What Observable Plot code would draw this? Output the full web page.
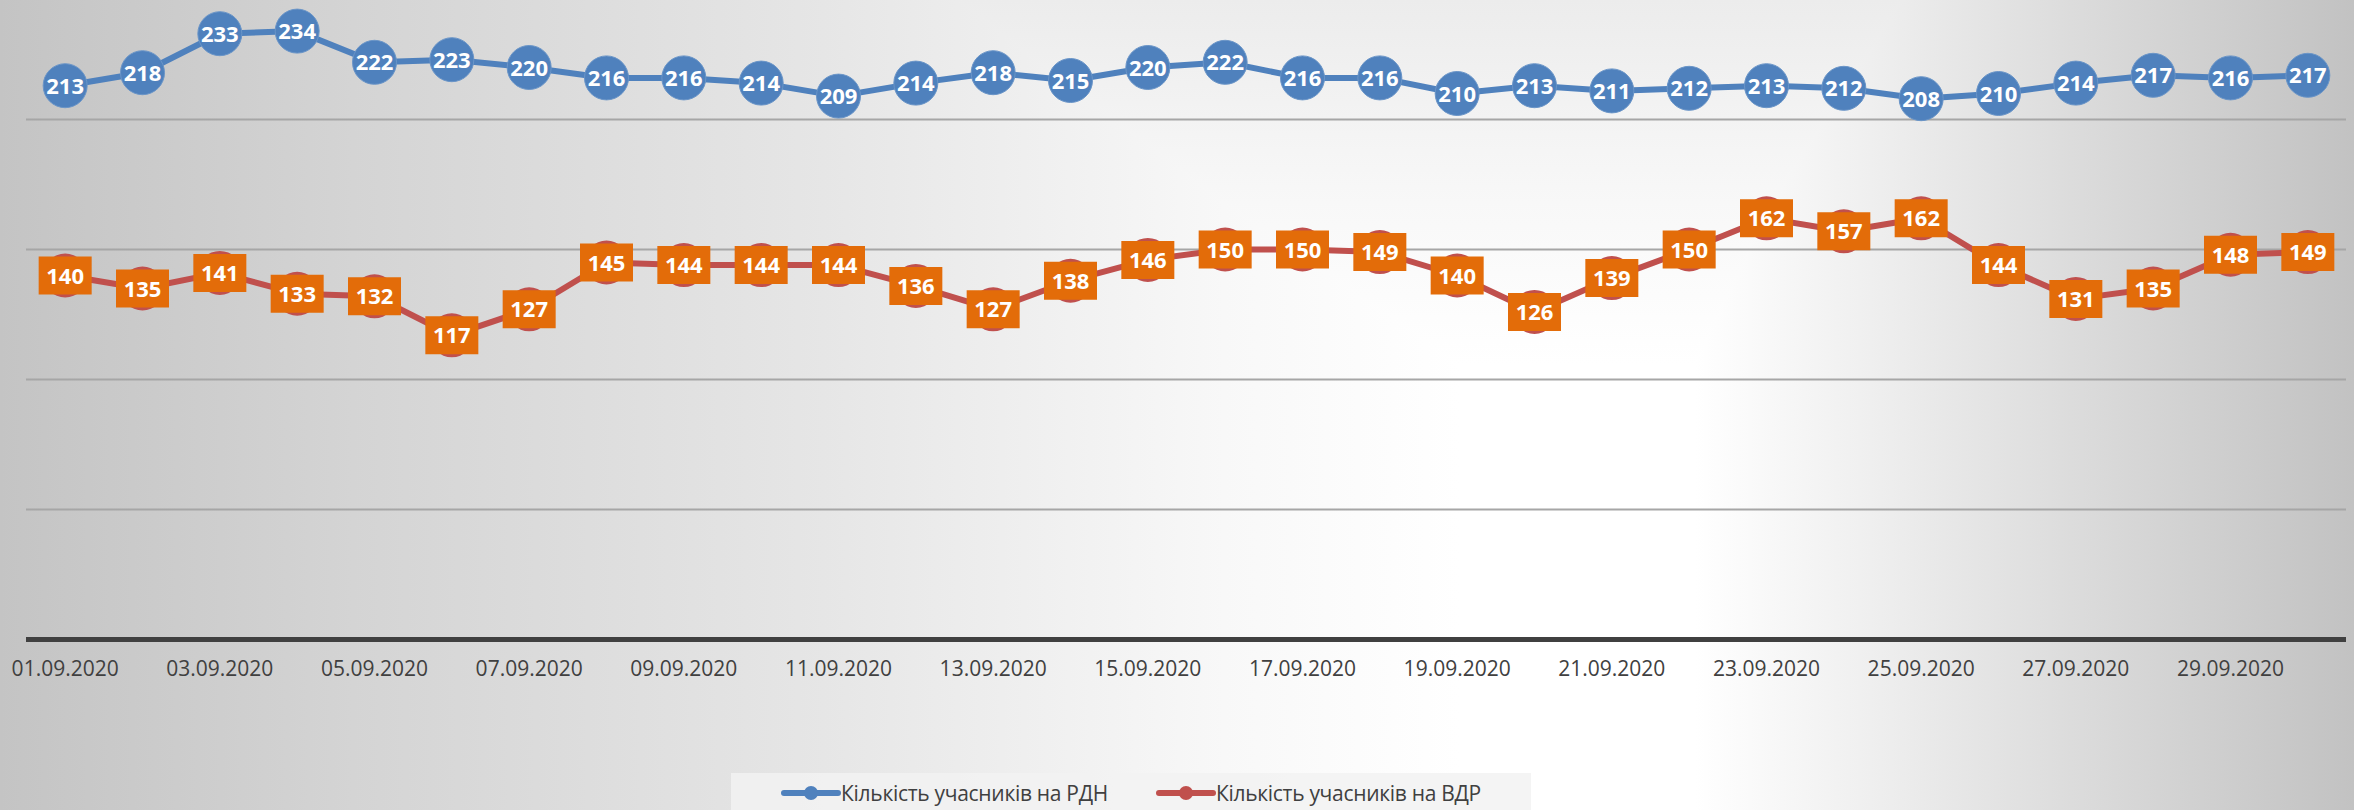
<!DOCTYPE html>
<html>
<head>
<meta charset="utf-8">
<script src="https://cdn.jsdelivr.net/npm/d3@7"></script>
<script src="https://cdn.jsdelivr.net/npm/@observablehq/plot@0.6"></script>
<style>
  html, body { margin: 0; padding: 0; }
  body {
    width: 2354px; height: 810px; overflow: hidden;
    font-family: "Open Sans", sans-serif;
    background:
      linear-gradient(to right, #c4c4c4 0%, #d4d4d4 15%, #e6e6e6 35%, #f8f8f8 52%, #ffffff 62%, #ffffff 72%, #f0f0f0 79%, #dcdcdc 88%, #c2c2c2 100%),
      linear-gradient(to bottom, #ececec 0%, #f8f8f8 25%, #ffffff 45%, #ffffff 100%);
    background-blend-mode: darken;
  }
  #chart svg { display: block; }
  #legend { position: relative; width: 2354px; height: 70px; }
  #legend .box {
    position: absolute; left: 731px; top: 33px; width: 800px; height: 40px;
    background: rgba(242,242,242,0.85);
    display: flex; align-items: center; justify-content: center; gap: 48px;
    font-size: 21px; color: #404040; letter-spacing: -0.3px;
  }
  #legend .item { display: flex; align-items: center; }
  #legend svg { display: block; }
</style>
</head>
<body>
<div id="chart"></div>
<div id="legend"></div>
<script>
const dates = ["01.09.2020","02.09.2020","03.09.2020","04.09.2020","05.09.2020","06.09.2020","07.09.2020","08.09.2020","09.09.2020","10.09.2020",
               "11.09.2020","12.09.2020","13.09.2020","14.09.2020","15.09.2020","16.09.2020","17.09.2020","18.09.2020","19.09.2020","20.09.2020",
               "21.09.2020","22.09.2020","23.09.2020","24.09.2020","25.09.2020","26.09.2020","27.09.2020","28.09.2020","29.09.2020","30.09.2020"];
const rdn = [213,218,233,234,222,223,220,216,216,214,209,214,218,215,220,222,216,216,210,213,211,212,213,212,208,210,214,217,216,217];
const vdr = [140,135,141,133,132,117,127,145,144,144,144,136,127,138,146,150,150,149,140,126,139,150,162,157,162,144,131,135,148,149];
const tickLabels = ["01.09.2020","03.09.2020","05.09.2020","07.09.2020","09.09.2020","11.09.2020","13.09.2020","15.09.2020",
                    "17.09.2020","19.09.2020","21.09.2020","23.09.2020","25.09.2020","27.09.2020","29.09.2020"];
const gridValues = [50, 100, 150, 200];
const seriesNames = ["Кількість учасників на РДН", "Кількість учасників на ВДР"];

const blue = "#4f81bd", red = "#c0504d", orange = "#e36c09";

const rdnData = dates.map((d, i) => ({date: d, value: rdn[i]}));
const vdrData = dates.map((d, i) => ({date: d, value: vdr[i]}));

const labelBox = {
  draw(context) { context.rect(-26.5, -19, 53, 38); }
};

const plot = Plot.plot({
  width: 2354,
  height: 740,
  marginLeft: 26,
  marginRight: 8,
  marginTop: 0,
  marginBottom: 101,
  style: {background: "transparent", fontFamily: "Open Sans, sans-serif"},
  x: {type: "point", domain: dates, padding: 0.5, round: false, axis: null},
  y: {domain: [0, 245.77], axis: null},
  marks: [
    Plot.ruleY(gridValues, {stroke: "#a6a6a6", strokeWidth: 2}),
    Plot.ruleY([0], {stroke: "#404040", strokeWidth: 5}),
    Plot.axisX({ticks: tickLabels, tickSize: 0, tickPadding: 22, fontSize: 21, fill: "#404040", stroke: null, label: null}),
    Plot.line(vdrData, {x: "date", y: "value", stroke: red, strokeWidth: 6}),
    Plot.dot(vdrData, {x: "date", y: "value", r: 22, fill: red, stroke: null}),
    Plot.dot(vdrData, {x: "date", y: "value", symbol: labelBox, fill: orange, stroke: null}),
    Plot.text(vdrData, {x: "date", y: "value", text: d => String(d.value), fill: "white", fontSize: 22, fontWeight: "bold", dy: 1, letterSpacing: -0.5}),
    Plot.line(rdnData, {x: "date", y: "value", stroke: blue, strokeWidth: 6}),
    Plot.dot(rdnData, {x: "date", y: "value", r: 22, fill: blue, stroke: "#6a95c8", strokeWidth: 1}),
    Plot.text(rdnData, {x: "date", y: "value", text: d => String(d.value), fill: "white", fontSize: 22, fontWeight: "bold", dy: 1, letterSpacing: -0.5})
  ]
});
document.getElementById("chart").appendChild(plot);

// legend
const legend = document.getElementById("legend");
const box = document.createElement("div");
box.className = "box";
[[seriesNames[0], blue], [seriesNames[1], red]].forEach(([name, color]) => {
  const item = document.createElement("div");
  item.className = "item";
  item.innerHTML = `<svg width="60" height="16"><line x1="3" y1="8" x2="57" y2="8" stroke="${color}" stroke-width="6" stroke-linecap="round"/><circle cx="30" cy="8" r="7" fill="${color}"/></svg><span>${name}</span>`;
  box.appendChild(item);
});
legend.appendChild(box);
</script>
</body>
</html>
